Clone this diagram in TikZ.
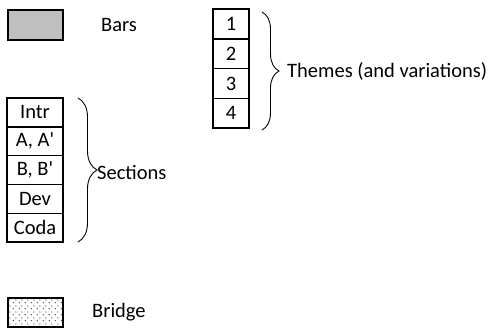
\documentclass[tikz,border=0pt]{standalone}
\usepackage{fontspec}
\setmainfont{Carlito}
\usetikzlibrary{positioning,patterns,decorations.pathreplacing}

\pgfdeclarepatternformonly{bridgedots}{\pgfpointorigin}{\pgfqpoint{6pt}{6pt}}{\pgfqpoint{6pt}{6pt}}{
	\pgfpathrectangle{\pgfqpoint{1pt}{1pt}}{\pgfqpoint{1pt}{1pt}}
	\pgfpathrectangle{\pgfqpoint{4pt}{4pt}}{\pgfqpoint{1pt}{1pt}}
	\pgfusepath{fill}
}

\begin{document}
\begin{tikzpicture}[x=1pt,y=-1pt,font=\fontsize{20.5}{24}\selectfont,
	box/.style={draw,line width=1.3pt,inner sep=0pt,outer sep=0pt},
	theme/.style={box,minimum width=36pt,minimum height=29.75pt},
	section/.style={box,minimum width=56pt,minimum height=28.8pt},
	brc/.style={decorate,decoration={brace,amplitude=#1},line width=0.9pt},
	lbl/.style={anchor=west,inner sep=0pt}]
	\useasboundingbox (0,0) rectangle (494,328);
	% legend
	\node [box,fill=gray!50,minimum width=55pt,minimum height=30pt] (bars) at (35.5,25) {};
	\node [lbl] (barstext) at (101,25) {Bars};
	\node [box,pattern=bridgedots,minimum width=55pt,minimum height=29pt] (bridge) at (35.5,312.5) {};
	\node [lbl] (bridgetext) at (92,312) {Bridge};
	% themes
	\node [theme] (t1) at (231,24) {1};
	\node [theme,below=0pt of t1] (t2) {2};
	\node [theme,below=0pt of t2] (t3) {3};
	\node [theme,below=0pt of t3] (t4) {4};
	\coordinate (ttop) at (262,12);
	\coordinate (tbot) at (262,130);
	\draw [brc=17pt] (ttop) -- (tbot);
	\node [lbl] (themes) at (287,71) {Themes (and variations)};
	% sections
	\node [section] (intr) at (35,112.5) {Intr};
	\node [section,below=0pt of intr] (aa) {A, A\textquotesingle};
	\node [section,below=0pt of aa] (bb) {B, B\textquotesingle};
	\node [section,below=0pt of bb] (dev) {Dev};
	\node [section,below=0pt of dev] (coda) {Coda};
	\coordinate (stop) at (78,98);
	\coordinate (sbot) at (78,242);
	\draw [brc=19pt] (stop) -- (sbot);
	\node [lbl] (sections) at (97,172) {Sections};
\end{tikzpicture}
\end{document}
